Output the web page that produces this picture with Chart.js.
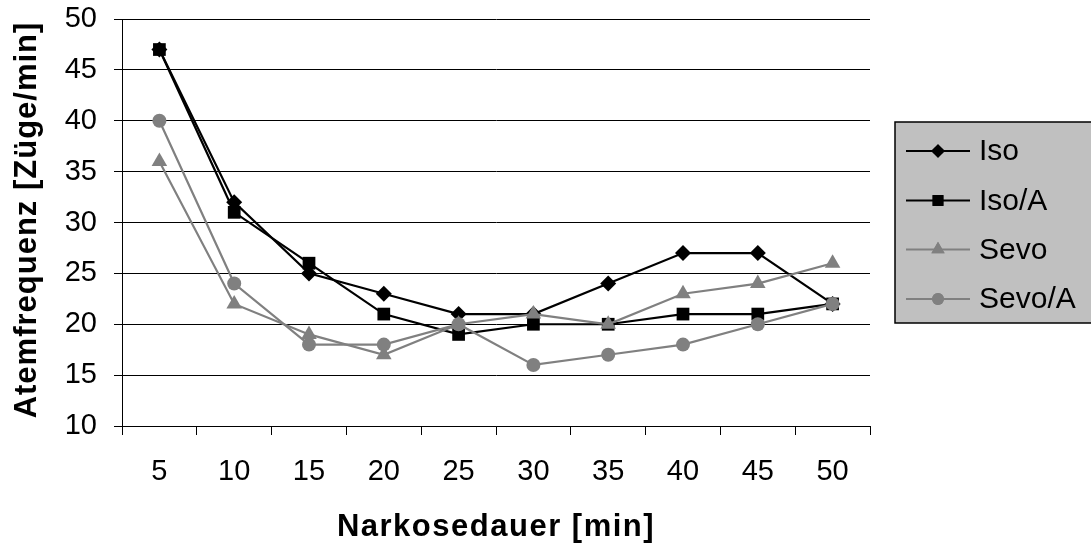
<!DOCTYPE html>
<html>
<head>
<meta charset="utf-8">
<script src="https://cdn.jsdelivr.net/npm/chart.js@4.4.1/dist/chart.umd.min.js"></script>
<style>
  html, body { margin: 0; padding: 0; background: #fff; }
  #wrap { width: 1091px; height: 549px; }
</style>
</head>
<body>
<div id="wrap"><canvas id="breathChart" width="1091" height="549"></canvas></div>
<script>
const minutes = ['5', '10', '15', '20', '25', '30', '35', '40', '45', '50'];
const iso = [47, 32, 25, 23, 21, 21, 24, 27, 27, 22];
const isoA = [47, 31, 26, 21, 19, 20, 20, 21, 21, 22];
const sevo = [36, 22, 19, 17, 20, 21, 20, 23, 24, 26];
const sevoA = [40, 24, 18, 18, 20, 16, 17, 18, 20, 22];

const xTitle = 'Narkosedauer [min]';
const yTitle = 'Atemfrequenz [Züge/min]';

const FONT = "'Liberation Sans', Arial, sans-serif";
const GREY = '#808080';

const series = [
  { label: 'Iso', data: iso, color: '#000', style: 'rectRot', r: 8 },
  { label: 'Iso/A', data: isoA, color: '#000', style: 'rect', r: 9 },
  { label: 'Sevo', data: sevo, color: GREY, style: 'triangle', r: 9 },
  { label: 'Sevo/A', data: sevoA, color: GREY, style: 'circle', r: 7 }
];

// axis titles drawn by hand so they can get the wider Excel letter spacing
const axisTitles = {
  id: 'axisTitles',
  afterDraw(chart) {
    const ctx = chart.ctx;
    const area = chart.chartArea;
    ctx.save();
    ctx.fillStyle = '#000';
    ctx.font = 'bold 31px ' + FONT;
    ctx.textAlign = 'center';
    ctx.textBaseline = 'middle';
    ctx.letterSpacing = '1.5px';
    ctx.fillText(xTitle, (area.left + area.right) / 2, 527);
    ctx.letterSpacing = '1px';
    ctx.translate(27, 220);
    ctx.rotate(-Math.PI / 2);
    ctx.fillText(yTitle, 0, 0);
    ctx.restore();
  }
};

// legend box in the Excel style (grey panel at right)
const boxLegend = {
  id: 'boxLegend',
  afterDraw(chart) {
    const ctx = chart.ctx;
    ctx.save();
    ctx.fillStyle = '#c0c0c0';
    ctx.fillRect(895, 122, 210, 201);
    ctx.strokeStyle = '#000';
    ctx.lineWidth = 1.5;
    ctx.strokeRect(895, 122, 210, 201);
    const rows = [151, 200.5, 249.5, 299];
    series.forEach((s, i) => {
      const y = rows[i];
      ctx.strokeStyle = s.color;
      ctx.lineWidth = 2;
      ctx.beginPath();
      ctx.moveTo(906, y);
      ctx.lineTo(970, y);
      ctx.stroke();
      ctx.fillStyle = s.color;
      Chart.helpers.drawPoint(ctx, { pointStyle: s.style, radius: s.r * 0.85, borderWidth: 0 }, 938, y);
      ctx.fill();
      ctx.fillStyle = '#000';
      ctx.font = '30px ' + FONT;
      ctx.textBaseline = 'middle';
      ctx.fillText(s.label, 979, y + 1);
    });
    ctx.restore();
  }
};

new Chart(document.getElementById('breathChart'), {
  type: 'line',
  data: {
    labels: minutes,
    datasets: series.map((s, i) => ({
      label: s.label,
      data: s.data,
      borderColor: s.color,
      backgroundColor: s.color,
      borderWidth: 2.2,
      pointStyle: s.style,
      pointRadius: s.r,
      pointBorderWidth: 0,
      tension: 0,
      fill: false,
      order: series.length - 1 - i
    }))
  },
  options: {
    responsive: false,
    animation: false,
    layout: { padding: { top: 19, right: 221, left: 0, bottom: 0 } },
    plugins: {
      legend: { display: false },
      tooltip: { enabled: false }
    },
    scales: {
      x: {
        offset: true,
        grid: { offset: true, drawOnChartArea: false, color: '#000', tickLength: 9 },
        border: { color: '#000', width: 1 },
        ticks: { color: '#000', padding: 20, font: { family: FONT, size: 29 } },
        afterFit(scale) {
          scale.height = 123;
          scale.paddingLeft = 0;
          scale.paddingRight = 0;
        }
      },
      y: {
        min: 10,
        max: 50,
        ticks: { stepSize: 5, color: '#000', padding: 17, font: { family: FONT, size: 29 } },
        grid: { color: '#000', lineWidth: 1, tickLength: 8 },
        border: { color: '#000', width: 1 },
        afterFit(scale) {
          scale.width = 122;
          scale.paddingTop = 0;
          scale.paddingBottom = 0;
        }
      }
    }
  },
  plugins: [axisTitles, boxLegend]
});
</script>
</body>
</html>
